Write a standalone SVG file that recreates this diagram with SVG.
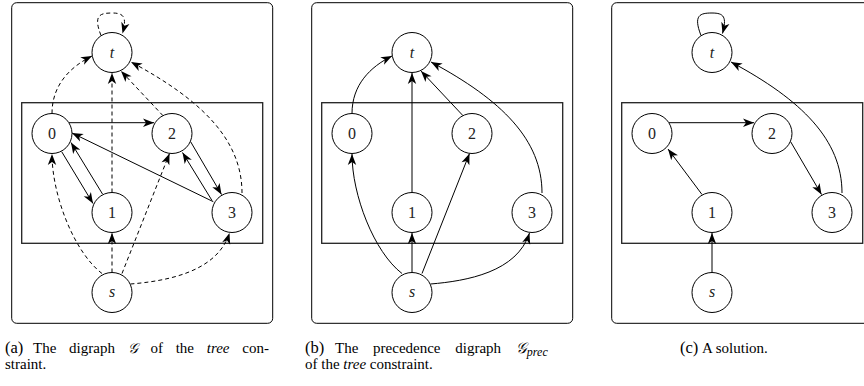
<svg xmlns="http://www.w3.org/2000/svg" width="864" height="386" viewBox="0 0 864 386">
<style>
.frame{fill:none;stroke:#000;stroke-width:1}
.box{fill:none;stroke:#222;stroke-width:1.3}
.nd circle{fill:#fff;stroke:#000;stroke-width:1}
.lbl{font-family:"Liberation Serif",serif;font-size:16px;fill:#222;text-anchor:middle}
.it{font-style:italic}
.e{fill:none;stroke:#000;stroke-width:1;marker-end:url(#ah)}
.d{stroke-dasharray:4 3}
.cap{font-family:"Liberation Serif",serif;font-size:15px;fill:#000}
.capl{font-size:16.5px}
</style>
<defs>
<marker id="ah" markerUnits="userSpaceOnUse" markerWidth="14" markerHeight="10" viewBox="-12 -5 14 10" refX="0" refY="0" orient="auto">
<path d="M0,0 L-11,-4.2 L-8,0 L-11,4.2 Z" fill="#000" stroke="none"/>
</marker>
</defs>

<rect class="frame" x="11.7" y="2.7" width="261" height="320.6" rx="5"/>
<rect class="frame" x="311.7" y="2.7" width="261" height="320.6" rx="5"/>
<rect class="frame" x="611.7" y="2.7" width="261" height="320.6" rx="5"/>
<rect class="box" x="21.7" y="102.7" width="241" height="140.6"/>
<rect class="box" x="321.7" y="102.7" width="241" height="140.6"/>
<rect class="box" x="621.7" y="102.7" width="241" height="140.6"/>

<g id="connectors">
<!-- panel a -->
<path class="e d" d="M101,35.5 C93,15 100,13 112,13 C124,13 127,17 122.5,33.5"/>
<path class="e d" d="M52,113.5 C52,85 70,67 92,56"/>
<path class="e d" d="M112,192.5 L112,73"/>
<path class="e d" d="M163,115.7 L121,71"/>
<path class="e d" d="M242,193 C242,140 202,100 131,62"/>
<path class="e d" d="M102,273.5 C74,252 52,195 52,154"/>
<path class="e d" d="M112,272.5 L112,233"/>
<path class="e d" d="M122,273.5 L169.5,153.5"/>
<path class="e d" d="M130.5,284 C167,281 217,272 229.5,233"/>
<path class="e" d="M69,122.7 L154,122.7"/>
<path class="e" d="M61.7,151.7 L93,203.5"/>
<path class="e" d="M102.5,194 L71,142.5"/>
<path class="e" d="M213.3,201.7 L72,133"/>
<path class="e" d="M190.5,141.5 L221.5,194.5"/>
<path class="e" d="M212,200.5 L182.5,152.5"/>
<!-- panel b -->
<path class="e" d="M352,113.5 C352,85 370,67 392,56"/>
<path class="e" d="M412,192.5 L412,73"/>
<path class="e" d="M463,115.7 L421,71"/>
<path class="e" d="M542,193 C542,140 502,100 431,62"/>
<path class="e" d="M402,273.5 C374,252 352,195 352,154"/>
<path class="e" d="M412,272.5 L412,233"/>
<path class="e" d="M422,273.5 L469.5,153.5"/>
<path class="e" d="M430.5,284 C467,281 517,272 529.5,233"/>
<!-- panel c -->
<path class="e" d="M701,35.5 C693,15 700,13 712,13 C724,13 727,17 722.5,33.5"/>
<path class="e" d="M669,122.7 L754,122.7"/>
<path class="e" d="M702,194.5 L668,149"/>
<path class="e" d="M790.5,141.5 L821.5,194.5"/>
<path class="e" d="M842,193 C842,140 802,100 731,62"/>
<path class="e" d="M712,272.5 L712,233"/>
</g>

<g id="a-t" class="nd"><circle cx="112" cy="52.5" r="20"/><text class="lbl it" x="112" y="58">t</text></g>
<g id="a-0" class="nd"><circle cx="52" cy="133.5" r="20"/><text class="lbl" x="52" y="139">0</text></g>
<g id="a-2" class="nd"><circle cx="172" cy="133.5" r="20"/><text class="lbl" x="172" y="139">2</text></g>
<g id="a-1" class="nd"><circle cx="112" cy="212.5" r="20"/><text class="lbl" x="112" y="218">1</text></g>
<g id="a-3" class="nd"><circle cx="232" cy="212.5" r="20"/><text class="lbl" x="232" y="218">3</text></g>
<g id="a-s" class="nd"><circle cx="112" cy="292.5" r="20"/><text class="lbl it" x="112" y="297">s</text></g>

<g id="b-t" class="nd"><circle cx="412" cy="52.5" r="20"/><text class="lbl it" x="412" y="58">t</text></g>
<g id="b-0" class="nd"><circle cx="352" cy="133.5" r="20"/><text class="lbl" x="352" y="139">0</text></g>
<g id="b-2" class="nd"><circle cx="472" cy="133.5" r="20"/><text class="lbl" x="472" y="139">2</text></g>
<g id="b-1" class="nd"><circle cx="412" cy="212.5" r="20"/><text class="lbl" x="412" y="218">1</text></g>
<g id="b-3" class="nd"><circle cx="532" cy="212.5" r="20"/><text class="lbl" x="532" y="218">3</text></g>
<g id="b-s" class="nd"><circle cx="412" cy="292.5" r="20"/><text class="lbl it" x="412" y="297">s</text></g>

<g id="c-t" class="nd"><circle cx="712" cy="52.5" r="20"/><text class="lbl it" x="712" y="58">t</text></g>
<g id="c-0" class="nd"><circle cx="652" cy="133.5" r="20"/><text class="lbl" x="652" y="139">0</text></g>
<g id="c-2" class="nd"><circle cx="772" cy="133.5" r="20"/><text class="lbl" x="772" y="139">2</text></g>
<g id="c-1" class="nd"><circle cx="712" cy="212.5" r="20"/><text class="lbl" x="712" y="218">1</text></g>
<g id="c-3" class="nd"><circle cx="832" cy="212.5" r="20"/><text class="lbl" x="832" y="218">3</text></g>
<g id="c-s" class="nd"><circle cx="712" cy="292.5" r="20"/><text class="lbl it" x="712" y="297">s</text></g>

<g id="captions">
<text class="cap" x="5" y="353"><tspan class="capl">(a)</tspan><tspan x="33" word-spacing="9">The digraph <tspan font-family="'DejaVu Serif',serif" font-style="italic" font-size="14">𝒢</tspan> of the <tspan font-style="italic">tree</tspan> con-</tspan></text>
<text class="cap" x="5" y="369">straint.</text>
<text class="cap" x="305" y="353"><tspan class="capl">(b)</tspan><tspan x="335" word-spacing="11">The precedence digraph <tspan font-family="'DejaVu Serif',serif" font-style="italic" font-size="15">𝒢</tspan></tspan><tspan font-style="italic" font-size="12" dy="3">prec</tspan></text>
<text class="cap" x="305" y="369">of the <tspan font-style="italic">tree</tspan> constraint.</text>
<text class="cap" x="680" y="353"><tspan class="capl">(c)</tspan><tspan x="702">A solution.</tspan></text>
</g>
</svg>
